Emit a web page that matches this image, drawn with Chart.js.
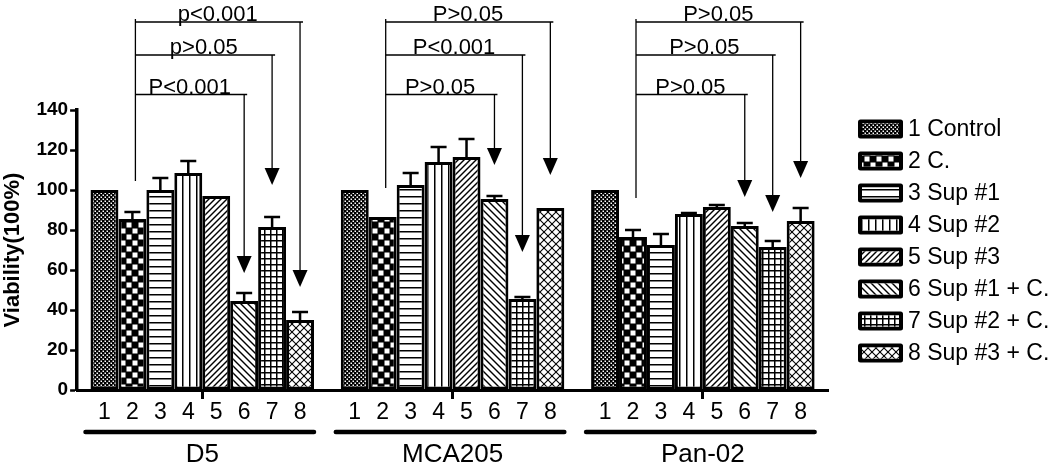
<!DOCTYPE html>
<html lang="en">
<head>
<meta charset="UTF-8">
<title>Viability by cell line</title>
<script src="https://cdn.jsdelivr.net/npm/chart.js"></script>
<style>
  html, body { margin: 0; padding: 0; background: #fff; }
  canvas { display: block; }
</style>
</head>
<body>
<canvas id="chart" width="1050" height="468"></canvas>
<script>
// categories and series
const groups = ["D5", "MCA205", "Pan-02"];
const seriesNames = ["1 Control", "2 C.", "3 Sup #1", "4 Sup #2", "5 Sup #3", "6 Sup #1 + C.", "7 Sup #2 + C.", "8 Sup #3 + C."];
const barNumbers = ["1", "2", "3", "4", "5", "6", "7", "8"];
const yTicks = [0, 20, 40, 60, 80, 100, 120, 140];

// mean viability, bars 1..8 in each group
const d5Mean  = [100, 85.5, 100, 108.5, 97, 44.5, 81.5, 35];
const mcaMean = [100, 86.5, 102.5, 114, 116.5, 95.5, 45.5, 91];
const panMean = [100, 76.5, 72.5, 88, 91.5, 82, 71.5, 84.5];

// upper error bars
const d5Err  = [0, 3.5, 6, 6, 0, 4, 5, 4];
const mcaErr = [0, 0, 6, 7.5, 9, 1.5, 1, 0];
const panErr = [0, 3.5, 5.5, 0.5, 1, 1.5, 3, 6.5];

// comparisons: bar 2 (C.) against bars 6, 7, 8
const compareFrom = 2;
const compareTo = [6, 7, 8];
const d5P  = ["P<0.001", "p>0.05", "p<0.001"];
const mcaP = ["P>0.05", "P<0.001", "P>0.05"];
const panP = ["P>0.05", "P>0.05", "P>0.05"];
const bracketLevels = [147.75, 167.5, 184];
const d5Tips  = [58.5, 102.5, 51.5];
const mcaTips = [112.5, 69, 107.5];
const panTips = [96.5, 89, 106];
const bracketFoot = [104.5, 101, 96];

const means = [d5Mean, mcaMean, panMean];
const errs = [d5Err, mcaErr, panErr];
const pLabels = [d5P, mcaP, panP];
const tips = [d5Tips, mcaTips, panTips];
const patternKinds = ["dots", "checker", "hlines", "vlines", "up", "down", "grid", "weave"];

const FONT = 'Arial, "Liberation Sans", Helvetica, sans-serif';
Chart.defaults.font.family = FONT;
Chart.defaults.color = "#000";

const canvas = document.getElementById("chart");
const mainCtx = canvas.getContext("2d");

function makePattern(kind) {
  const sizes = { dots: 4, checker: 12, hlines: 7, vlines: 7, up: 6, down: 7, grid: 6, weave: 8 };
  const n = sizes[kind];
  const c = document.createElement("canvas");
  c.width = n; c.height = n;
  const g = c.getContext("2d");
  g.fillStyle = "#fff";
  g.fillRect(0, 0, n, n);
  g.fillStyle = "#000";
  g.strokeStyle = "#000";
  const line = (x1, y1, x2, y2) => { g.beginPath(); g.moveTo(x1, y1); g.lineTo(x2, y2); g.stroke(); };
  if (kind === "dots") {
    g.fillRect(0, 0, n, n);
    g.fillStyle = "#fff";
    g.fillRect(0.5, 0.5, 1.5, 1.5);
    g.fillRect(2.5, 2.5, 1.5, 1.5);
  } else if (kind === "checker") {
    g.fillRect(0, 0, n, n);
    g.fillStyle = "#fff";
    g.fillRect(0.5, 0.5, 5, 5);
    g.fillRect(6.5, 6.5, 5, 5);
  } else if (kind === "hlines") {
    g.fillRect(0, 0, n, 1.5);
  } else if (kind === "vlines") {
    g.fillRect(0, 0, 1.5, n);
  } else if (kind === "grid") {
    g.fillRect(0, 0, n, 1.5);
    g.fillRect(0, 0, 1.5, n);
  } else if (kind === "up" || kind === "weave") {
    g.lineWidth = kind === "up" ? 1.4 : 1.1;
    line(0, n, n, 0); line(-1, 1, 1, -1); line(n - 1, n + 1, n + 1, n - 1);
  }
  if (kind === "down" || kind === "weave") {
    g.lineWidth = kind === "down" ? 1.4 : 1.1;
    line(0, 0, n, n); line(-1, n - 1, 1, n + 1); line(n - 1, -1, n + 1, 1);
  }
  return mainCtx.createPattern(c, "repeat");
}

const patterns = patternKinds.map(makePattern);

const datasets = seriesNames.map((name, i) => ({
  label: name,
  data: means.map(m => m[i]),
  backgroundColor: patterns[i],
  borderColor: "#000",
  borderWidth: 3,
  borderSkipped: false,
  barPercentage: 1,
  categoryPercentage: 0.893
}));

// error bars (upper only)
const errorBars = {
  id: "errorBars",
  afterDatasetsDraw(chart) {
    const ctx = chart.ctx, y = chart.scales.y;
    ctx.save();
    ctx.strokeStyle = "#000";
    ctx.lineWidth = 2.5;
    datasets.forEach((ds, i) => {
      const meta = chart.getDatasetMeta(i);
      groups.forEach((grp, g) => {
        const e = errs[g][i];
        if (!e) return;
        const bar = meta.data[g];
        const y0 = y.getPixelForValue(means[g][i]);
        const y1 = y.getPixelForValue(means[g][i] + e);
        ctx.beginPath();
        ctx.moveTo(bar.x, y0);
        ctx.lineTo(bar.x, y1);
        ctx.moveTo(bar.x - 8, y1);
        ctx.lineTo(bar.x + 8, y1);
        ctx.stroke();
      });
    });
    ctx.restore();
  }
};

// significance brackets with arrows
const brackets = {
  id: "brackets",
  afterDraw(chart) {
    const ctx = chart.ctx, y = chart.scales.y;
    ctx.save();
    ctx.strokeStyle = "#000";
    ctx.fillStyle = "#000";
    ctx.lineWidth = 1.3;
    ctx.font = "22px " + FONT;
    ctx.textAlign = "center";
    ctx.textBaseline = "alphabetic";
    groups.forEach((grp, g) => {
      const xFrom = chart.getDatasetMeta(compareFrom - 1).data[g].x + 3;
      ctx.beginPath();
      ctx.moveTo(xFrom, y.getPixelForValue(bracketFoot[g]));
      ctx.lineTo(xFrom, y.getPixelForValue(bracketLevels[2]) - 3);
      ctx.stroke();
      compareTo.forEach((bar, k) => {
        const xTo = chart.getDatasetMeta(bar - 1).data[g].x;
        const yl = y.getPixelForValue(bracketLevels[k]);
        const yt = y.getPixelForValue(tips[g][k]);
        ctx.beginPath();
        ctx.moveTo(xFrom, yl);
        ctx.lineTo(xTo + 3, yl);
        ctx.moveTo(xTo, yl);
        ctx.lineTo(xTo, yt - 16);
        ctx.stroke();
        ctx.beginPath();
        ctx.moveTo(xTo - 7.5, yt - 17);
        ctx.lineTo(xTo + 7.5, yt - 17);
        ctx.lineTo(xTo, yt);
        ctx.closePath();
        ctx.fill();
        ctx.fillText(pLabels[g][k], (xFrom + xTo) / 2, yl - 1);
      });
    });
    ctx.restore();
  }
};

// bar numbers, group underline and group names
const barLabels = {
  id: "barLabels",
  afterDraw(chart) {
    const ctx = chart.ctx;
    const base = chart.chartArea.bottom;
    ctx.save();
    ctx.fillStyle = "#000";
    ctx.strokeStyle = "#000";
    ctx.textAlign = "center";
    ctx.textBaseline = "middle";
    groups.forEach((grp, g) => {
      ctx.font = "23px " + FONT;
      datasets.forEach((ds, i) => {
        const bar = chart.getDatasetMeta(i).data[g];
        ctx.fillText(barNumbers[i], bar.x, base + 23);
      });
      const first = chart.getDatasetMeta(0).data[g];
      const last = chart.getDatasetMeta(datasets.length - 1).data[g];
      ctx.lineWidth = 4.5;
      ctx.lineCap = "round";
      ctx.beginPath();
      ctx.moveTo(first.x - first.width / 2 - 5, base + 42);
      ctx.lineTo(last.x + last.width / 2, base + 42);
      ctx.stroke();
      ctx.font = "26px " + FONT;
      ctx.fillText(grp, chart.scales.x.getPixelForValue(g), base + 65);
    });
    ctx.restore();
  }
};

// legend with pattern swatches
const swatchLegend = {
  id: "swatchLegend",
  afterDraw(chart) {
    const ctx = chart.ctx;
    const x0 = chart.chartArea.right + 30;
    ctx.save();
    ctx.font = "23px " + FONT;
    ctx.textBaseline = "middle";
    ctx.textAlign = "left";
    seriesNames.forEach((name, i) => {
      const yc = 129 + i * 32;
      ctx.fillStyle = "#000";
      ctx.beginPath();
      ctx.roundRect(x0, yc - 9.5, 45, 19, 2.5);
      ctx.fill();
      ctx.fillStyle = "#fff";
      ctx.fillRect(x0 + 4, yc - 5.5, 37, 11);
      ctx.fillStyle = patterns[i];
      ctx.fillRect(x0 + 4, yc - 5.5, 37, 11);
      ctx.fillStyle = "#000";
      ctx.fillText(name, x0 + 50, yc + 1);
    });
    ctx.restore();
  }
};

new Chart(mainCtx, {
  type: "bar",
  data: { labels: groups, datasets: datasets },
  options: {
    responsive: false,
    animation: false,
    layout: { padding: { top: 110, right: 222, bottom: 69, left: 0 } },
    plugins: { legend: { display: false }, tooltip: { enabled: false } },
    scales: {
      x: {
        offset: true,
        grid: { display: true, offset: false, drawOnChartArea: false, tickLength: 9, tickWidth: 3, tickColor: "#000" },
        border: { display: true, color: "#000", width: 3 },
        ticks: { display: false }
      },
      y: {
        min: 0,
        max: 140,
        afterBuildTicks: axis => { axis.ticks = yTicks.map(v => ({ value: v })); },
        grid: { display: true, drawOnChartArea: false, tickLength: 7, tickWidth: 2.5, tickColor: "#000" },
        border: { display: true, color: "#000", width: 3.5 },
        ticks: { font: { size: 19, weight: "bold" }, padding: 2, color: "#000" },
        title: { display: true, text: "Viability(100%)", font: { size: 22, weight: "bold" }, padding: { top: 0, bottom: 8 }, color: "#000" }
      }
    }
  },
  plugins: [errorBars, brackets, barLabels, swatchLegend]
});
</script>
</body>
</html>
